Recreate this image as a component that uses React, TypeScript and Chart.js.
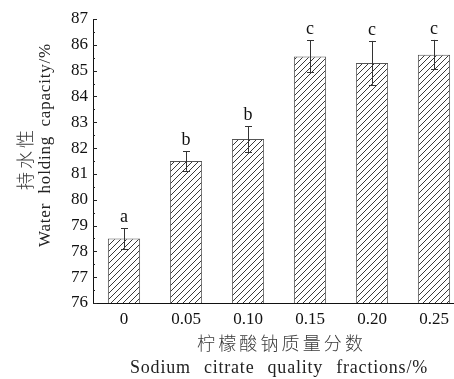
import React, { useEffect, useRef } from "react";
import { Chart, registerables } from "chart.js";

Chart.register(...registerables);

const categories = ["0", "0.05", "0.10", "0.15", "0.20", "0.25"];
const values = [78.5, 81.5, 82.35, 85.55, 85.3, 85.62];
const errors = [0.4, 0.38, 0.5, 0.62, 0.85, 0.57];
const letters = ["a", "b", "b", "c", "c", "c"];
const yMin = 76;
const yMax = 87;
const yTitleCn = "持水性";
const yTitleEn = "Water holding capacity/%";
const xTitleCn = "柠檬酸钠质量分数";
const xTitleEn = "Sodium citrate quality fractions/%";

const SERIF = "'Liberation Serif', 'Times New Roman', serif";
const CJK = "'Noto Sans CJK SC', sans-serif";

function makeHatch(): CanvasPattern | string {
  const s = 6;
  const c = document.createElement("canvas");
  c.width = s;
  c.height = s;
  const g = c.getContext("2d");
  if (!g) return "#fff";
  g.fillStyle = "#fff";
  g.fillRect(0, 0, s, s);
  g.strokeStyle = "#3a3a3a";
  g.lineWidth = 1;
  g.beginPath();
  g.moveTo(-1, s + 1);
  g.lineTo(s + 1, -1);
  g.moveTo(-1, 1);
  g.lineTo(1, -1);
  g.moveTo(s - 1, s + 1);
  g.lineTo(s + 1, s - 1);
  g.stroke();
  const p = g.createPattern(c, "repeat");
  return p || "#fff";
}

// draw text spread to a target width by distributing gaps between pieces
function drawSpread(
  ctx: CanvasRenderingContext2D,
  pieces: string[],
  cx: number,
  cy: number,
  target: number,
  letterSpacing: number
) {
  (ctx as any).letterSpacing = `${letterSpacing}px`;
  const widths = pieces.map((p) => ctx.measureText(p).width);
  const natural = widths.reduce((a, b) => a + b, 0);
  const gap = pieces.length > 1 ? (target - natural) / (pieces.length - 1) : 0;
  let x = cx - target / 2;
  ctx.textAlign = "left";
  ctx.textBaseline = "middle";
  pieces.forEach((p, i) => {
    ctx.fillText(p, x, cy);
    x += widths[i] + gap;
  });
  (ctx as any).letterSpacing = "0px";
}

const annotPlugin = {
  id: "annot",
  afterDatasetsDraw(chart: any) {
    const ctx: CanvasRenderingContext2D = chart.ctx;
    const y = chart.scales.y;
    const area = chart.chartArea;
    const meta = chart.getDatasetMeta(0);
    ctx.save();
    // inward ticks on y axis
    ctx.strokeStyle = "#222";
    ctx.lineWidth = 1;
    for (let v = yMin; v <= yMax + 1e-9; v += 0.5) {
      const py = Math.round(y.getPixelForValue(v)) + 0.5;
      const major = Math.abs(v - Math.round(v)) < 1e-9;
      const len = major ? 4 : 2;
      ctx.beginPath();
      ctx.moveTo(area.left, py);
      ctx.lineTo(area.left + len, py);
      ctx.stroke();
    }
    // error bars and letters
    meta.data.forEach((bar: any, i: number) => {
      const x = Math.round(bar.x) + 0.5;
      const top = y.getPixelForValue(values[i] + errors[i]);
      const bot = y.getPixelForValue(values[i] - errors[i]);
      ctx.strokeStyle = "#333";
      ctx.lineWidth = 1;
      ctx.beginPath();
      ctx.moveTo(x, top);
      ctx.lineTo(x, bot);
      ctx.moveTo(x - 3.5, Math.round(top) + 0.5);
      ctx.lineTo(x + 3.5, Math.round(top) + 0.5);
      ctx.moveTo(x - 3.5, Math.round(bot) + 0.5);
      ctx.lineTo(x + 3.5, Math.round(bot) + 0.5);
      ctx.stroke();
      ctx.fillStyle = "#111";
      ctx.font = `18px ${SERIF}`;
      ctx.textAlign = "center";
      ctx.textBaseline = "alphabetic";
      ctx.fillText(letters[i], bar.x, top - 6);
    });
    ctx.restore();
  },
  afterDraw(chart: any) {
    const ctx: CanvasRenderingContext2D = chart.ctx;
    ctx.save();
    // y titles (rotated)
    ctx.save();
    ctx.translate(25, 160);
    ctx.rotate(-Math.PI / 2);
    ctx.fillStyle = "#3a3a3a";
    ctx.font = `300 18px ${CJK}`;
    drawSpread(ctx, Array.from(yTitleCn), 0, 0, 60, 0);
    ctx.restore();

    ctx.save();
    ctx.translate(46, 145);
    ctx.rotate(-Math.PI / 2);
    ctx.fillStyle = "#222";
    ctx.font = `17px ${SERIF}`;
    drawSpread(ctx, yTitleEn.split(" "), 0, 0, 204, 0.8);
    ctx.restore();

    // x titles
    ctx.fillStyle = "#3a3a3a";
    ctx.font = `300 18px ${CJK}`;
    drawSpread(ctx, Array.from(xTitleCn), 280, 343, 166, 0);
    ctx.fillStyle = "#222";
    ctx.font = `18px ${SERIF}`;
    drawSpread(ctx, xTitleEn.split(" "), 279, 368, 298, 0.8);
    ctx.restore();
  },
};

export default function App() {
  const ref = useRef<HTMLCanvasElement | null>(null);
  useEffect(() => {
    if (!ref.current) return;
    const hatch = makeHatch();
    const chart = new Chart(ref.current, {
      type: "bar",
      data: {
        labels: categories,
        datasets: [
          {
            data: values,
            backgroundColor: hatch as any,
            borderColor: "#555",
            borderWidth: 1,
            barPercentage: 0.52,
            categoryPercentage: 1,
            base: yMin,
          },
        ],
      },
      options: {
        responsive: false,
        animation: false,
        layout: { padding: { top: 19, left: 0, right: 0, bottom: 0 } },
        plugins: {
          legend: { display: false },
          tooltip: { enabled: false },
          title: { display: false },
        },
        scales: {
          x: {
            grid: { display: false, drawTicks: false },
            border: { display: true, color: "#111", width: 1 },
            ticks: {
              color: "#111",
              font: { family: SERIF, size: 17 },
              padding: 6,
              maxRotation: 0,
            },
            afterFit: (s: any) => {
              s.height = 76;
            },
          },
          y: {
            min: yMin,
            max: yMax,
            grid: { display: false, drawTicks: false },
            border: { display: true, color: "#111", width: 1 },
            ticks: {
              stepSize: 1,
              color: "#111",
              font: { family: SERIF, size: 17 },
              padding: 5,
            },
            afterFit: (s: any) => {
              s.width = 93;
            },
          },
        },
      },
      plugins: [annotPlugin],
    });
    return () => chart.destroy();
  }, []);
  return (
    <div
      style={{
        position: "fixed",
        left: 0,
        top: 0,
        width: 454,
        height: 379,
        overflow: "hidden",
        background: "#fff",
      }}
    >
      <canvas ref={ref} width={465} height={379} style={{ display: "block" }} />
    </div>
  );
}
